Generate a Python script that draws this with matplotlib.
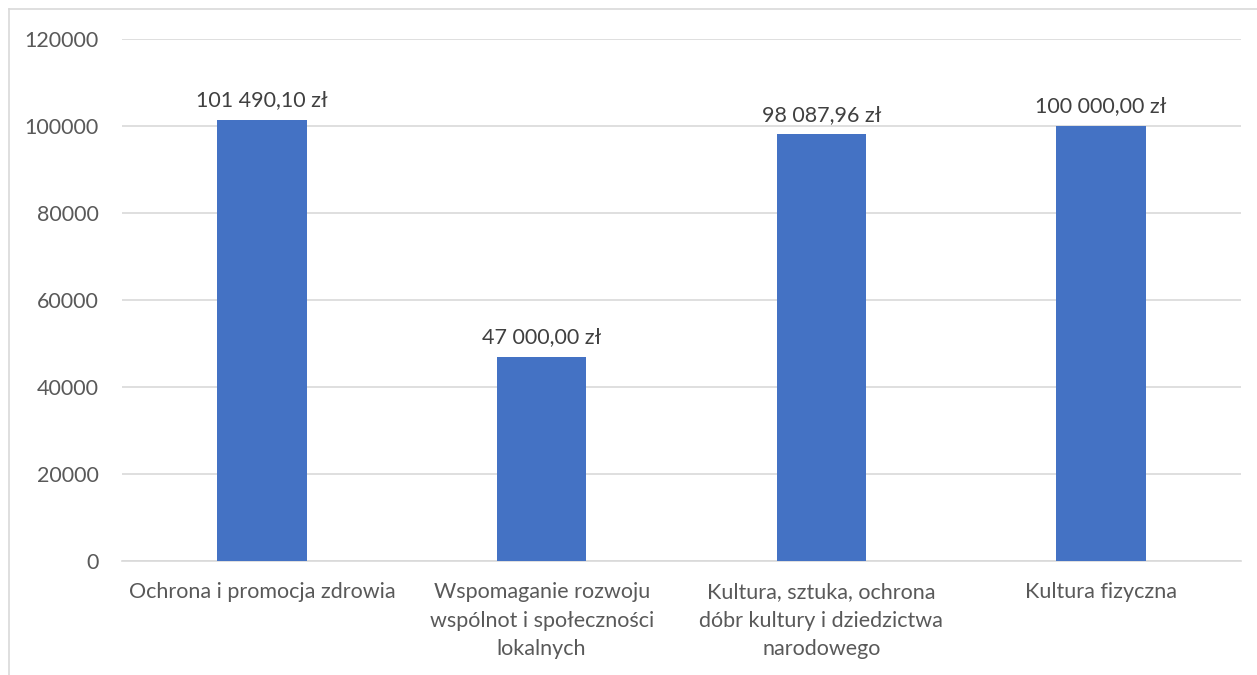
import matplotlib.pyplot as plt
from matplotlib.lines import Line2D

categories = ["Ochrona i promocja zdrowia",
              "Wspomaganie rozwoju\nwspólnot i społeczności\nlokalnych",
              "Kultura, sztuka, ochrona\ndóbr kultury i dziedzictwa\nnarodowego",
              "Kultura fizyczna"]
values = [101490.10, 47000.00, 98087.96, 100000.00]
value_labels = ["101 490,10 zł", "47 000,00 zł", "98 087,96 zł", "100 000,00 zł"]
yticks = [0, 20000, 40000, 60000, 80000, 100000, 120000]

plt.rcParams['font.family'] = ['Lato', 'DejaVu Sans']
text_color = '#595959'

fig = plt.figure(figsize=(12.57, 6.75), dpi=100)
ax = fig.add_axes([122 / 1257, 1 - 561 / 675, (1241 - 122) / 1257, (561 - 39) / 675])

x = range(len(categories))
bars = ax.bar(x, values, width=0.32, color='#4472c4', zorder=3)
for b, lab in zip(bars, value_labels):
    ax.annotate(lab, (b.get_x() + b.get_width() / 2, b.get_height()),
                xytext=(0, 7), textcoords='offset points',
                ha='center', va='bottom', fontsize=15.5, color='#404040')

ax.set_xlim(-0.5, len(categories) - 0.5)
ax.set_ylim(0, 120000)
ax.set_yticks(yticks)
ax.set_yticklabels([str(t) for t in yticks])
ax.set_xticks(list(x))
ax.set_xticklabels(categories, linespacing=1.55, va='top')
ax.tick_params(axis='both', length=0, colors=text_color, labelsize=15.5)
ax.tick_params(axis='y', pad=17)
ax.tick_params(axis='x', pad=15)
ax.grid(axis='y', color='#d9d9d9', linewidth=1.2, zorder=0)
for s in ['top', 'right', 'left']:
    ax.spines[s].set_visible(False)
ax.spines['bottom'].set_color('#d9d9d9')
ax.spines['bottom'].set_linewidth(1.2)

# outer chart border (cut off at right and bottom)
fig.add_artist(Line2D([9 / 1257, 9 / 1257], [0, 1 - 9 / 675], color='#d9d9d9', lw=1.2))
fig.add_artist(Line2D([9 / 1257, 1], [1 - 9 / 675, 1 - 9 / 675], color='#d9d9d9', lw=1.2))

fig.savefig('out.png', dpi=100)
